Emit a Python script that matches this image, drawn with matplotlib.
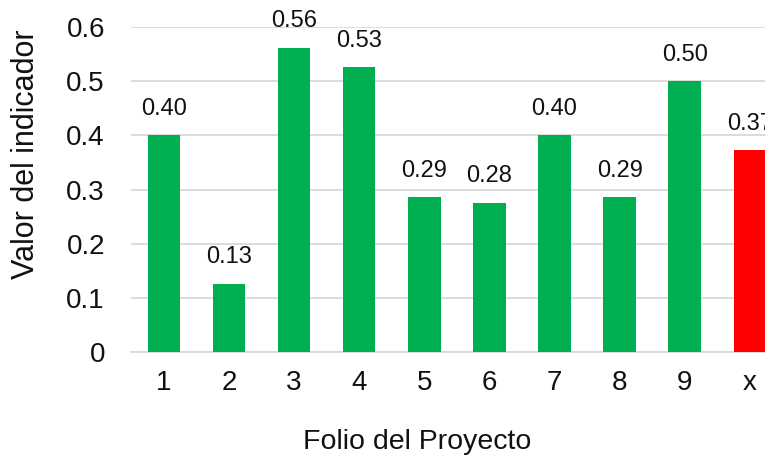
import matplotlib
matplotlib.use('Agg')
import matplotlib.pyplot as plt

folios = ['1', '2', '3', '4', '5', '6', '7', '8', '9', 'x']
valores = [0.40, 0.126, 0.562, 0.526, 0.286, 0.276, 0.40, 0.286, 0.50, 0.373]
colores = ['#00B050'] * 9 + ['#FF0000']

plt.rcParams['font.family'] = ['Liberation Sans', 'DejaVu Sans']

fig = plt.figure(figsize=(7.65, 4.61), dpi=100)
ax = fig.add_axes([0.1717, 0.2364, 0.851, 0.705])

x = list(range(len(folios)))
bars = ax.bar(x, valores, width=0.5, color=colores, zorder=3)

for b, v in zip(bars, valores):
    ax.annotate(f'{v:.2f}', (b.get_x() + b.get_width() / 2, v),
                xytext=(0, 11), textcoords='offset points',
                ha='center', va='bottom', fontsize=17, color='#111111')

ax.set_xlim(-0.5, len(folios) - 0.5)
ax.set_ylim(0, 0.6)
ax.set_yticks([0, 0.1, 0.2, 0.3, 0.4, 0.5, 0.6])
ax.set_yticklabels(['0', '0.1', '0.2', '0.3', '0.4', '0.5', '0.6'])
ax.set_xticks(x)
ax.set_xticklabels(folios)
ax.tick_params(axis='y', length=0, pad=19, labelsize=20, colors='#111111')
ax.tick_params(axis='x', length=0, pad=13, labelsize=20, colors='#111111')

ax.grid(axis='y', color='#D9D9D9', linewidth=1.3, zorder=0)
for s in ['top', 'right', 'left']:
    ax.spines[s].set_visible(False)
ax.spines['bottom'].set_color('#D9D9D9')
ax.spines['bottom'].set_linewidth(1.3)

fig.text(417 / 765, 1 - 442 / 461, 'Folio del Proyecto', ha='center', va='center',
         fontsize=20.5, color='#111111')
fig.text(26 / 765, 1 - 154 / 461, 'Valor del indicador', ha='center', va='center',
         rotation=90, fontsize=22, color='#111111')

fig.savefig('out.png', dpi=100)
